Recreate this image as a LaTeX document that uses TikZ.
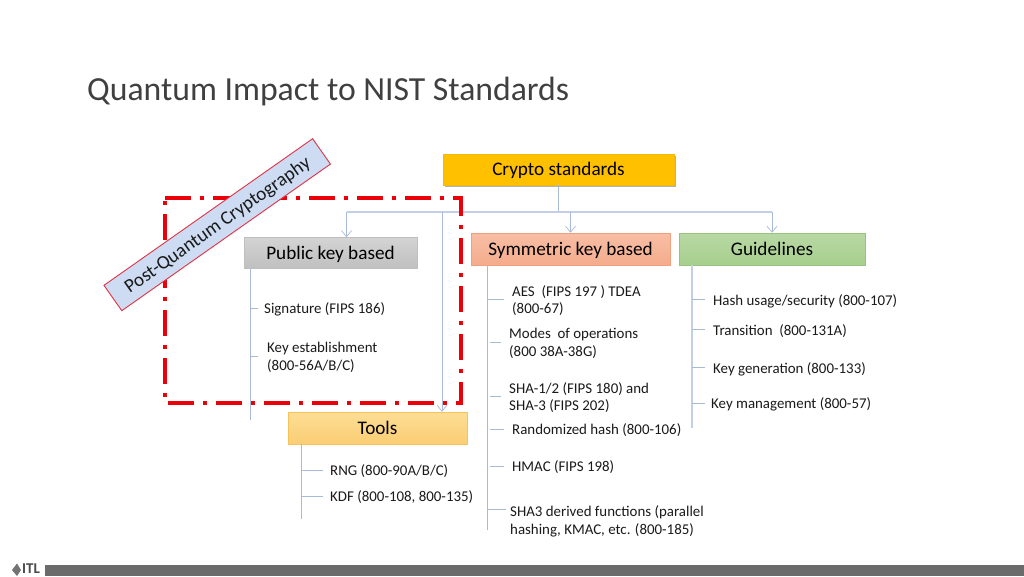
\documentclass[tikz,border=0pt]{standalone}
\usepackage{fontspec}
\setmainfont{Carlito}
\usetikzlibrary{arrows.meta,shadows}
\definecolor{linkblue}{HTML}{A9B9D8}
\definecolor{linklight}{HTML}{C3CFE8}
\definecolor{titlegray}{HTML}{404040}
\definecolor{labelink}{HTML}{1A1A1A}
\tikzset{
  hdr/.style={line width=.5pt,inner sep=0pt,text=black,text height=14pt,text depth=2pt,font=\fontsize{19.2}{23}\selectfont},
  lbl/.style={anchor=west,inner sep=0pt,yshift=-1.5pt,align=left,text=labelink,font=\fontsize{14.9}{17.8}\selectfont},
  trunk/.style={draw=linkblue,line width=1pt},
  tick/.style={draw=linkblue,line width=.8pt},
  feed/.style={draw=linklight,line width=1.5pt},
  arrowed/.style={draw=linkblue,line width=.8pt,-{Straight Barb[length=6pt,width=10pt,line width=.7pt]}},
  pqc/.style={draw={rgb,255:red,235;green,0;blue,10},line width=3.6pt,dash pattern=on 26pt off 9pt on 4pt off 9pt},
}
\begin{document}
\begin{tikzpicture}[x=1pt,y=-1pt]
\useasboundingbox (0,0) rectangle (1024,576);
\fill[white] (0,0) rectangle (1024,576);
% title
\node[anchor=west,inner sep=0pt,text=titlegray,font=\fontsize{33.7}{40}\selectfont] (title) at (87,92) {Quantum Impact to NIST Standards};
\coordinate (hub) at (558.5,212);
% header boxes
\node[hdr,draw={rgb,255:red,245;green,185;blue,10},fill={rgb,255:red,255;green,192;blue,0},minimum width=231pt,minimum height=31pt,drop shadow={shadow xshift=1.5pt,shadow yshift=-2pt,opacity=.6}] (crypto) at (558.5,169.5) {Crypto standards};
\node[hdr,draw=black!25,top color=black!17,bottom color=black!25,minimum width=173pt,minimum height=31pt] (public) at (330.5,253) {Public key based};
\node[hdr,top color={rgb,255:red,248;green,190;blue,165},bottom color={rgb,255:red,244;green,172;blue,140},draw={rgb,255:red,240;green,160;blue,125},minimum width=199pt,minimum height=32pt] (sym) at (570.5,249) {Symmetric key based};
\node[hdr,top color={rgb,255:red,185;green,216;blue,165},bottom color={rgb,255:red,166;green,207;blue,140},draw={rgb,255:red,150;green,195;blue,125},minimum width=186pt,minimum height=32pt] (guide) at (772,249) {Guidelines};
\node[hdr,top color={rgb,255:red,253;green,222;blue,150},bottom color={rgb,255:red,250;green,205;blue,115},draw={rgb,255:red,245;green,195;blue,90},minimum width=179pt,minimum height=32pt] (tools) at (377.5,428) {Tools};
% labels
\node[lbl] (sig) at (264,308) {Signature (FIPS 186)};
\node[lbl] (kest) at (267,356) {Key establishment\\(800-56A/B/C)};
\node[lbl] (aes) at (512,299) {AES\ \ (FIPS 197 ) TDEA\\(800-67)};
\node[lbl] (modes) at (509,342) {Modes\ \ of operations\\(800 38A-38G)};
\node[lbl] (sha) at (509,396) {SHA-1/2 (FIPS 180) and\\SHA-3 (FIPS 202)};
\node[lbl] (rand) at (512,429) {Randomized hash (800-106)};
\node[lbl] (hmac) at (512,466) {HMAC (FIPS 198)};
\node[lbl] (sha3d) at (510,520) {SHA3 derived functions (parallel\\hashing, KMAC, etc. (800-185)};
\node[lbl] (hash) at (713,299.5) {Hash usage/security (800-107)};
\node[lbl] (trans) at (713,329.5) {Transition\ \ (800-131A)};
\node[lbl] (kgen) at (713,367.5) {Key generation (800-133)};
\node[lbl] (kman) at (711,403) {Key management (800-57)};
\node[lbl] (rng) at (330,470) {RNG (800-90A/B/C)};
\node[lbl] (kdf) at (330,496) {KDF (800-108, 800-135)};
% free ends
\coordinate (pubend) at (250.5,420);
\coordinate (symend) at (487.5,530);
\coordinate (guiend) at (692,428);
\coordinate (toolend) at (301.5,519);
% hierarchy feeds
\draw[trunk] (crypto.south) -- (hub);
\draw[feed] ([xshift=16pt]public.north |- hub) -- (guide.north |- hub);
\draw[arrowed] ([xshift=16pt]public.north |- hub) -- ([xshift=16pt]public.north);
\draw[arrowed] (sym.north |- hub) -- (sym.north);
\draw[arrowed] (guide.north |- hub) -- (guide.north);
\draw[arrowed] ([xshift=64.5pt]tools.north |- hub) -- ([xshift=64.5pt]tools.north);
% trunks
\draw[trunk] (pubend |- public.south) -- (pubend);
\draw[trunk] (symend |- sym.south) -- (symend);
\draw[trunk,draw=linklight,line width=2pt] (guiend |- guide.south) -- (guiend);
\draw[trunk] (toolend |- tools.south) -- (toolend);
% ticks
\draw[tick] (pubend |- sig.west) ++(0,-1.5) -- ++(7,0);
\draw[tick] (pubend |- kest.west) ++(0,-1.5) -- ++(7,0);
\draw[tick] (symend |- aes.west) ++(0,-1.5) -- ++(16,0);
\draw[tick] (symend |- modes.west) ++(2.5,-1.5) -- ++(11,0);
\draw[tick] (symend |- sha.west) ++(2.5,-1.5) -- ++(11,0);
\draw[tick] (symend |- rand.west) ++(2.5,-1.5) -- ++(14,0);
\draw[tick] (symend |- hmac.west) ++(2.5,-1.5) -- ++(14,0);
\draw[tick] (symend |- sha3d.west) ++(0,-12.5) -- ++(18,0);
\draw[tick] (guiend |- hash.west) ++(0,-1.5) -- ++(13,0);
\draw[tick] (guiend |- trans.west) ++(0,-1.5) -- ++(13,0);
\draw[tick] (guiend |- kgen.west) ++(0,-1.5) -- ++(13,0);
\draw[tick] (guiend |- kman.west) ++(0,-1.5) -- ++(13,0);
\draw[tick] (toolend |- rng.west) ++(0,-1.5) -- ++(21,0);
\draw[tick] (toolend |- kdf.west) ++(0,-1.5) -- ++(21,0);
% red frame
\draw[pqc] (165,198) -- (461,198) -- (461,403) -- (165,403) -- cycle;
% banner
\node[draw={rgb,255:red,225;green,50;blue,70},line width=.9pt,fill={rgb,255:red,205;green,220;blue,242},rotate=35.1,minimum width=255pt,minimum height=31pt,inner sep=0pt,text height=15pt,text depth=2.5pt,text=labelink,font=\fontsize{19.2}{23}\selectfont] (banner) at (217.2,224.7) {Post-Quantum Cryptography};
% footer
\fill[black!58] (45,565) rectangle (1024,576);
\fill[black!55] (12,570) -- (17,563.5) -- (21,570) -- (17,576) -- cycle;
\node[anchor=west,inner sep=0pt,text=black!70,font=\bfseries\fontsize{15}{15}\selectfont] (itl) at (22,569) {ITL};
\end{tikzpicture}
\end{document}
